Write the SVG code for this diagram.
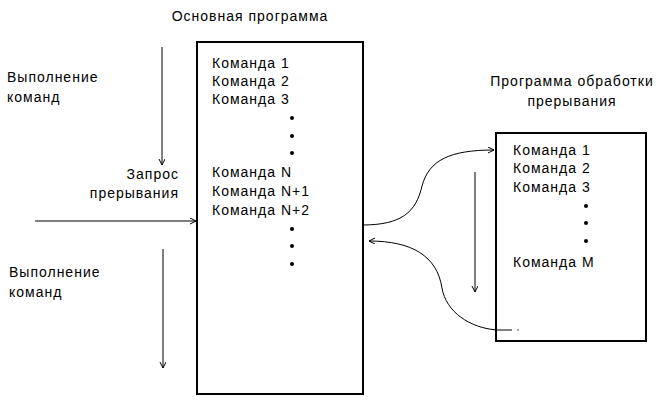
<svg xmlns="http://www.w3.org/2000/svg" width="661" height="402" viewBox="0 0 661 402">
<defs>
<marker id="arr" markerWidth="8" markerHeight="8" refX="6" refY="3" orient="auto" markerUnits="userSpaceOnUse">
<path d="M0,0 L6,3 L0,6" fill="none" stroke="#000" stroke-width="1"/>
</marker>
<style>
text{font-family:"Liberation Sans",Arial,sans-serif;font-size:14px;letter-spacing:1px;fill:#000}
.box{fill:#fff;stroke:#000;stroke-width:2}
.ln{fill:none;stroke:#000;stroke-width:1}
.dot{fill:#000}
.mid{text-anchor:middle}
.end{text-anchor:end}
</style>
</defs>
<rect width="661" height="402" fill="#fff"/>
<g id="labels">
<text x="7" y="82">Выполнение</text>
<text x="7" y="102">команд</text>
<text x="179" y="179" class="end">Запрос</text>
<text x="179" y="198" class="end">прерывания</text>
<text x="9" y="277">Выполнение</text>
<text x="9" y="297">команд</text>
</g>
<g id="main">
<text x="250" y="21" class="mid">Основная программа</text>
<rect class="box" x="197" y="42" width="166" height="352"/>
<text x="212" y="68">Команда 1</text>
<text x="212" y="86">Команда 2</text>
<text x="212" y="104">Команда 3</text>
<circle class="dot" cx="292" cy="118" r="2"/>
<circle class="dot" cx="292" cy="136" r="2"/>
<circle class="dot" cx="292" cy="153" r="2"/>
<text x="212" y="177">Команда N</text>
<text x="212" y="196">Команда N+1</text>
<text x="212" y="215">Команда N+2</text>
<circle class="dot" cx="292" cy="229" r="2"/>
<circle class="dot" cx="292" cy="246" r="2"/>
<circle class="dot" cx="292" cy="264" r="2"/>
</g>
<g id="handler">
<text x="572" y="86" class="mid">Программа обработки</text>
<text x="572" y="106" class="mid">прерывания</text>
<rect class="box" x="496" y="133" width="150" height="208"/>
<text x="513" y="155">Команда 1</text>
<text x="513" y="173">Команда 2</text>
<text x="513" y="192">Команда 3</text>
<circle class="dot" cx="586" cy="206" r="2"/>
<circle class="dot" cx="586" cy="223" r="2"/>
<circle class="dot" cx="586" cy="241" r="2"/>
<text x="513" y="267">Команда M</text>
</g>
<g id="connectors">
<line class="ln" x1="162" y1="47" x2="162" y2="165" marker-end="url(#arr)"/>
<line class="ln" x1="35" y1="221" x2="196" y2="221" marker-end="url(#arr)"/>
<line class="ln" x1="163" y1="249" x2="163" y2="368" marker-end="url(#arr)"/>
<line class="ln" x1="475" y1="172" x2="475" y2="292" marker-end="url(#arr)"/>
<path class="ln" d="M362,225 C402,225 416,212 422,186 C429,160 450,150 494,150" marker-end="url(#arr)"/>
<path class="ln" d="M512,330 L497,330 C470,328 446,312 442,288 C437,256 412,241 369,241" marker-end="url(#arr)"/>
<circle class="dot" cx="518" cy="330" r="0.7"/>
</g>
</svg>
